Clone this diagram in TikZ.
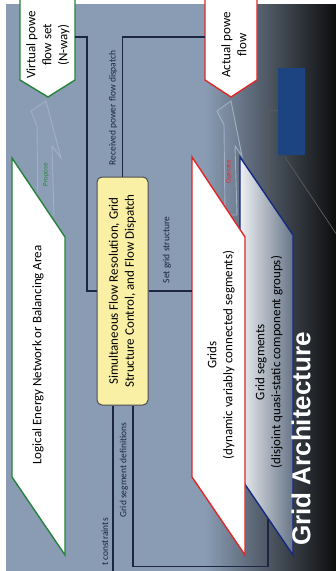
\documentclass[tikz,border=0pt]{standalone}
\usepackage{fontspec}
\setmainfont{Carlito}
\newfontfamily\titlefont{Liberation Sans}
\usepackage{tikz}
\usetikzlibrary{calc,positioning,shapes}

\definecolor{slidebg}{RGB}{138,156,180}
\definecolor{navyline}{RGB}{28,38,66}
\definecolor{lgreen}{RGB}{38,130,58}
\definecolor{lred}{RGB}{222,40,40}
\definecolor{segblue}{RGB}{22,40,130}
\definecolor{ctlyellow}{RGB}{250,240,165}
\definecolor{boltc}{RGB}{160,176,198}
\definecolor{darkbox}{RGB}{28,68,128}

\begin{document}
\begin{tikzpicture}[x=1pt, y=-1pt]
\tikzstyle{link}=[draw=navyline, line width=1.1pt]
\tikzstyle{lbl}=[rotate=90, inner sep=1pt, text=navyline,
                 font=\fontsize{9.5}{11}\selectfont]
\tikzstyle{txt}=[rotate=90, align=center, inner sep=0pt,
                 font=\fontsize{13}{16}\selectfont]
\tikzstyle{bolt}=[draw=boltc, line width=0.9pt, fill=boltc, fill opacity=0.12]
\tikzstyle{area}=[line width=1.4pt, fill=white]

\useasboundingbox (0,0) rectangle (336,571);
\clip (0,0) rectangle (336,571);
% slide background
\fill[white] (0,0) rectangle (336,571);
\fill[slidebg] (6,4) rectangle (336,571);
\shade[left color=slidebg, right color=black!95] (205,4) rectangle (336,571);

% faint layer behind the grid segments
\fill[darkbox] (278,68) rectangle (305,155);
\coordinate (segs-n) at (268,198);
\draw[gray!70!black, line width=0.8pt] (285,157) -- (345,247);
\draw[gray!70!black, line width=0.8pt] (278,110) -| (segs-n);

% grid segments
\shade[left color=white!85!slidebg, right color=slidebg!75!black]
  (240,157) -- (293,235) -- (293,555) -- (240,477) -- cycle;
\draw[segblue, line width=1.4pt]
  (240,157) -- (293,235) -- (293,555) -- (240,477) -- cycle;
\coordinate (segs-s) at (268,519);

% lightning bolts
\draw[bolt] (46,101) -- (31,111) -- (37,126) -- (38,215) -- (54,215)
  -- (52,146) -- (61,158) -- cycle;
\draw[bolt] (231,101) -- (217,111) -- (224,125) -- (225,215) -- (237,215)
  -- (235,146) -- (242,156) -- cycle;

% flow sets
\draw[area, draw=lgreen] (20,-5) -- (20,80) -- (48,97) -- (75,80) -- (75,-5) -- cycle;
\draw[area, draw=lred] (205,-5) -- (205,80) -- (231,97) -- (257,80) -- (257,-5) -- cycle;
\coordinate (vflow-e) at (75,37);
\coordinate (aflow-w) at (205,37);

% logical area and grids
\draw[area, draw=lgreen] (12,158) -- (65,237) -- (65,555) -- (12,477) -- cycle;
\draw[area, draw=lred] (192,157) -- (245,237) -- (245,555) -- (192,477) -- cycle;
\coordinate (grids-w) at (192,291);

% control box
\node[draw=black!70, fill=ctlyellow, rounded corners=5pt, line width=1pt,
      minimum width=51pt, minimum height=228pt] (ctl) at (122.5,291) {};

% connectors
\draw[link] (vflow-e) -- ++(12,0) |- (ctl.west);
\draw[link] (ctl.north) |- (aflow-w);
\draw[link] (ctl.east) -- (grids-w);
\draw[link] ([xshift=10.5pt]ctl.south) -- ++(0,161) -| (segs-s);
\draw[link] ([xshift=-9.5pt]ctl.south) -- ++(0,200);

% texts
\node[txt] (vflow) at (48,45) {\baselineskip=15pt Virtual powe\\flow set\\(N-way)};
\node[txt] (aflow) at (234,45) {\baselineskip=17pt Actual powe\\flow};
\node[txt] (lean) at (38,355) {Logical Energy Network or Balancing Area};
\node[txt] (ctltext) at (ctl) {\baselineskip=19pt Simultaneous Flow Resolution, Grid\\Structure Control, and Flow Dispatch};
\node[txt] (grids) at (221,355) {\baselineskip=17pt Grids\\(dynamic variably connected segments)};
\node[txt] (segs) at (269,362) {\baselineskip=18pt Grid segments\\(disjoint quasi-static component groups)};

\node[lbl] (dispatch) at (113,108) {Received power flow dispatch};
\node[lbl] (setgrid) at (167,250) {Set grid structure};
\node[lbl] (segdef) at (124,470) {Grid segment definitions};
\node[lbl, anchor=east] (constr) at (105,517) {t constraints};
\node[rotate=90, text=lgreen, font=\fontsize{7}{8}\selectfont, inner sep=0pt]
  (propose) at (46,175) {Propose};
\node[rotate=90, text=lred, font=\fontsize{7}{8}\selectfont, inner sep=0pt]
  (operate) at (229,172) {Operate};

\node[rotate=90, text=white, inner sep=0pt,
      font=\titlefont\bfseries\fontsize{26}{30}\selectfont] (title) at (301,439) {Grid Architecture};
\end{tikzpicture}
\end{document}
